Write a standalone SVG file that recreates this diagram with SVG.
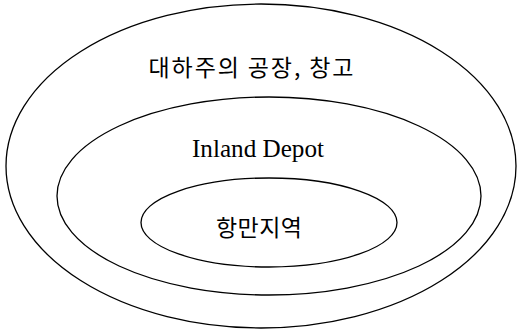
<svg xmlns="http://www.w3.org/2000/svg" width="518" height="330" viewBox="0 0 518 330">
<style>
.ring{fill:none;stroke:#000;stroke-width:1.3}
.ko{font-family:"Noto Sans CJK KR","Noto Sans",sans-serif;fill:#000;text-anchor:middle}
.en{font-family:"Liberation Serif",serif;fill:#000;text-anchor:middle}
</style>
<rect width="518" height="330" fill="#fff"/>
<g id="outer">
<ellipse class="ring" cx="261" cy="166" rx="255" ry="162"/>
<text class="ko" x="251" y="76" font-size="23" textLength="205" lengthAdjust="spacing">대하주의 공장, 창고</text>
</g>
<g id="middle">
<ellipse class="ring" cx="269" cy="196" rx="212" ry="99"/>
<text class="en" x="258" y="157" font-size="25" textLength="132" lengthAdjust="spacingAndGlyphs">Inland Depot</text>
</g>
<g id="inner">
<ellipse class="ring" cx="269" cy="222.5" rx="128" ry="44.5"/>
<text class="ko" x="259" y="236" font-size="23" textLength="86" lengthAdjust="spacing">항만지역</text>
</g>
<g id="connectors"></g>
</svg>
